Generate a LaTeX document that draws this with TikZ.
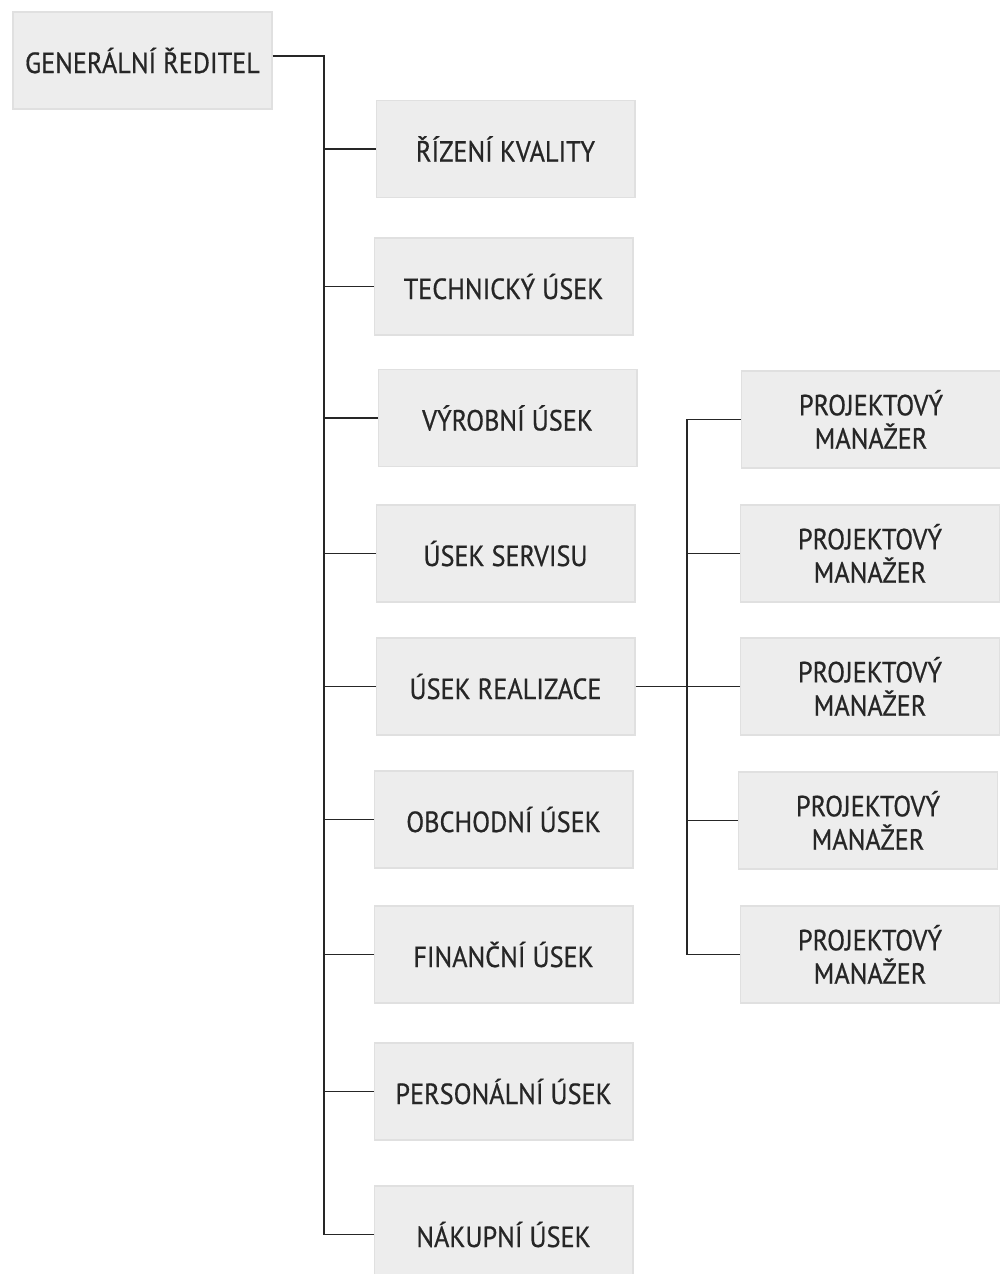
\documentclass[tikz,border=0pt]{standalone}
\usepackage{fontspec}
\setmainfont[FakeStretch=0.9, FakeBold=0.6]{PT Sans}
\usetikzlibrary{positioning}
\definecolor{boxfill}{HTML}{EDEDED}
\definecolor{boxline}{HTML}{E0E0E0}
\definecolor{textgray}{HTML}{262626}
\tikzset{
box/.style={
	  draw=boxline, fill=boxfill, line width=0.6pt,
	    minimum width=5.18cm, minimum height=1.94cm,
    align=center, text=textgray, font=\fontsize{16.6}{19}\selectfont},
link/.style={draw=black!85, line width=1pt}
}

\begin{document}
\begin{tikzpicture}[x=0.02cm, y=-0.02cm]
	\useasboundingbox (0,0) rectangle (1000,1274);
	\clip (0,0) rectangle (1000,1274);
	\node[box] (ceo) at (142.5,60.5) {GENERÁLNÍ ŘEDITEL};
	% divisions
	\node[box] (kval) at (505.5,149) {ŘÍZENÍ KVALITY};
	\node[box] (tech) at (503.5,286.5) {TECHNICKÝ ÚSEK};
	\node[box] (vyr) at (507.5,418) {VÝROBNÍ ÚSEK};
	\node[box] (serv) at (505.5,553.5) {ÚSEK SERVISU};
	\node[box] (real) at (505.5,686.5) {ÚSEK REALIZACE};
	\node[box] (obch) at (503.5,819.5) {OBCHODNÍ ÚSEK};
	\node[box] (fin) at (503.5,954.5) {FINANČNÍ ÚSEK};
	\node[box] (pers) at (503.5,1091.5) {PERSONÁLNÍ ÚSEK};
	\node[box] (nak) at (503.5,1234.5) {NÁKUPNÍ ÚSEK};
	% project managers
	\node[box] (pm1) at (871,419.5) {PROJEKTOVÝ\\MANAŽER};
	\node[box] (pm2) at (870,553.5) {PROJEKTOVÝ\\MANAŽER};
	\node[box] (pm3) at (870,686.5) {PROJEKTOVÝ\\MANAŽER};
	\node[box] (pm4) at (868,820.5) {PROJEKTOVÝ\\MANAŽER};
	\node[box] (pm5) at (870,954.5) {PROJEKTOVÝ\\MANAŽER};
	% connectors
	\coordinate (trunk) at (324,0);
	\coordinate (sub) at (687,0);
	\draw[link] (ceo.east |- 0,56) -- (trunk |- 0,56) -- (trunk |- nak.west) -- (nak.west);
	\draw[link] (trunk |- kval.west) -- (kval.west);
	\draw[link] (trunk |- tech.west) -- (tech.west);
	\draw[link] (trunk |- vyr.west) -- (vyr.west);
	\draw[link] (trunk |- serv.west) -- (serv.west);
	\draw[link] (trunk |- real.west) -- (real.west);
	\draw[link] (trunk |- obch.west) -- (obch.west);
	\draw[link] (trunk |- fin.west) -- (fin.west);
	\draw[link] (trunk |- pers.west) -- (pers.west);
	\draw[link] (real.east) -- (pm3.west);
	\draw[link] (pm1.west) -- (sub |- pm1.west) -- (sub |- pm5.west) -- (pm5.west);
	\draw[link] (sub |- pm2.west) -- (pm2.west);
	\draw[link] (sub |- pm4.west) -- (pm4.west);
\end{tikzpicture}
\end{document}
